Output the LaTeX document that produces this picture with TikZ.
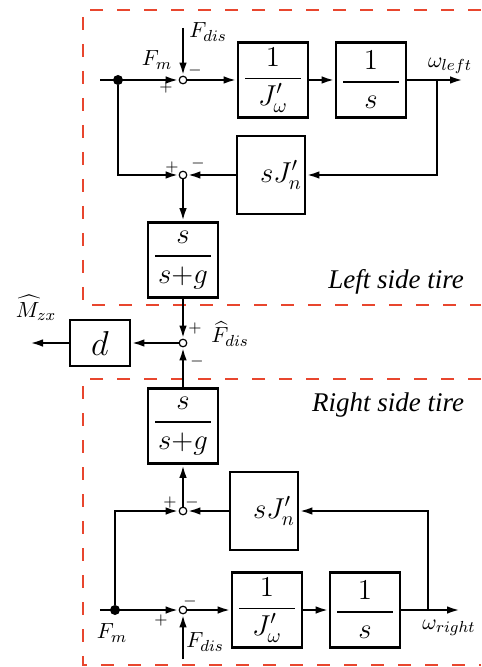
\documentclass[tikz,border=0pt]{standalone}
\usepackage{amsmath}
\usepackage{fontspec}
\setmainfont{Liberation Serif}
\usetikzlibrary{arrows.meta}
\definecolor{tirered}{RGB}{232,70,46}
\newcommand{\wfrac}[2]{$\dfrac{\makebox[28pt]{$#1$}}{\makebox[28pt]{$#2$}}$}

\begin{document}
\begin{tikzpicture}[x=0.5pt,y=-0.5pt,
  >={Latex[length=6.5pt,width=3.8pt]},
  sig/.style={line width=1.2pt},
  blk/.style={draw,line width=1.4pt,minimum width=35pt,minimum height=37.5pt,
    inner sep=0pt,font=\fontsize{14}{16}\selectfont},
  sumpt/.style={circle,draw,fill=white,line width=0.6pt,minimum size=3.8pt,inner sep=0pt},
  dotpt/.style={circle,fill,minimum size=5pt,inner sep=0pt},
  sgn/.style={font=\fontsize{8}{9}\selectfont,inner sep=0pt},
  lbl/.style={font=\fontsize{11}{13}\selectfont,inner sep=0pt},
  tire/.style={tirered,line width=1.2pt,dash pattern=on 6.5pt off 7pt},
  side/.style={font=\fontsize{13.5}{16}\selectfont\itshape,inner sep=0pt}]
  \useasboundingbox (0,0) rectangle (481,667);

  % tire frames
  \draw[tire] (481,10) -- (83,10) -- (83,305) -- (481,305);
  \draw[tire] (481,379) -- (83,379) -- (83,665) -- (481,665);
  \node[side] (lside) at (396,282) {Left side tire};
  \node[side] (rside) at (388,405) {Right side tire};

  % left side tire
  \coordinate (in1) at (100,80);
  \coordinate (fdis1) at (183,28);
  \coordinate (br1) at (437,80);
  \coordinate (out1) at (463,80);
  \node[dotpt] (dot1) at (118,80) {};
  \node[sumpt] (sum1) at (183,80) {};
  \node[blk] (J1) at (273,80) {\wfrac{1}{J'_{\omega}}};
  \node[blk] (S1) at (371,80) {\wfrac{1}{s}};
  \node[blk,minimum width=34pt,minimum height=39pt] (sJ1) at (271,175) {\hspace*{10pt}$sJ'_{n}$};
  \node[sumpt] (sum2) at (183,175) {};
  \node[blk] (G1) at (183,260) {\wfrac{s}{s{+}g}};
  \node[lbl] (fm1) at (157,60) {$F_m$};
  \node[lbl] (lfdis1) at (208,32) {$F_{dis}$};
  \node[lbl] (wl) at (450,66) {$\omega_{left}$};
  \node[sgn] (p1) at (166,88) {$+$};
  \node[sgn] (m1) at (195,71) {$-$};
  \node[sgn] (p2) at (172,168) {$+$};
  \node[sgn] (m2) at (198,164) {$-$};

  \draw[sig,->] (in1) -- (sum1);
  \draw[sig,->] (fdis1) -- (sum1);
  \draw[sig,->] (sum1) -- (J1);
  \draw[sig,->] (J1) -- (S1);
  \draw[sig,->] (S1) -- (out1);
  \draw[sig,->] (br1) |- (sJ1);
  \draw[sig,->] (sJ1) -- (sum2);
  \draw[sig,->] (dot1) |- (sum2);
  \draw[sig,->] (sum2) -- (G1);

  % estimated disturbance
  \node[sumpt] (sum3) at (183,343) {};
  \node[blk,minimum width=30pt,minimum height=23pt,font=\fontsize{16}{18}\selectfont] (dblk) at (100,343) {$d$};
  \coordinate (mzx) at (30,343);
  \node[lbl] (lmzx) at (36,308) {$\widehat{M}_{zx}$};
  \node[lbl] (lfhat) at (230,334) {$\widehat{F}_{dis}$};
  \node[sgn] (p3) at (195,328) {$+$};
  \node[sgn] (m3) at (197,361) {$-$};

  \draw[sig,->] (G1) -- (sum3);
  \draw[sig,->] (sum3) -- (dblk);
  \draw[sig,->] (dblk) -- (mzx);

  % right side tire
  \node[blk] (G2) at (183,426) {\wfrac{s}{s{+}g}};
  \coordinate (in2) at (100,610);
  \coordinate (fdis2) at (183,659);
  \coordinate (br2) at (428,610);
  \coordinate (out2) at (460,610);
  \node[dotpt] (dot2) at (115,610) {};
  \node[sumpt] (sum5) at (183,610) {};
  \node[sumpt] (sum4) at (183,511) {};
  \node[blk,minimum width=34pt,minimum height=39pt] (sJ2) at (264,511) {\hspace*{10pt}$sJ'_{n}$};
  \node[blk] (J2) at (267,610) {\wfrac{1}{J'_{\omega}}};
  \node[blk] (S2) at (365,610) {\wfrac{1}{s}};
  \node[lbl] (fm2) at (112,633) {$F_m$};
  \node[lbl] (lfdis2) at (205,642) {$F_{dis}$};
  \node[lbl] (wr) at (449,628) {$\omega_{right}$};
  \node[sgn] (p4) at (170,502) {$+$};
  \node[sgn] (m4) at (192,502) {$-$};
  \node[sgn] (p5) at (161,620) {$+$};
  \node[sgn] (m5) at (190,601) {$-$};

  \draw[sig,->] (in2) -- (sum5);
  \draw[sig,->] (fdis2) -- (sum5);
  \draw[sig,->] (sum5) -- (J2);
  \draw[sig,->] (J2) -- (S2);
  \draw[sig,->] (S2) -- (out2);
  \draw[sig,->] (br2) |- (sJ2);
  \draw[sig,->] (sJ2) -- (sum4);
  \draw[sig,->] (dot2) |- (sum4);
  \draw[sig,->] (sum4) -- (G2);
  \draw[sig,->] (G2) -- (sum3);
\end{tikzpicture}
\end{document}
